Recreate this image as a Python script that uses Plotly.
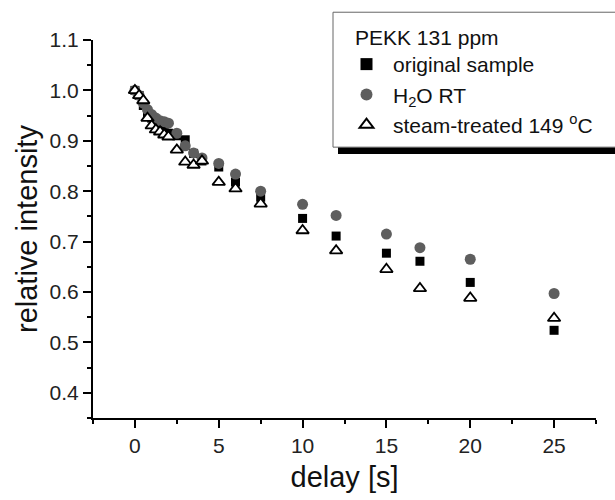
import plotly.graph_objects as go

delay = [0, 0.25, 0.5, 0.75, 1, 1.25, 1.5, 1.75, 2, 2.5, 3, 3.5, 4, 5, 6, 7.5, 10, 12, 15, 17, 20, 25]

original_sample = [1.0, 0.99, 0.97, 0.955, 0.945, 0.935, 0.925, 0.92, 0.915, 0.91, 0.902, 0.875,
                   0.86, 0.848, 0.818, 0.788, 0.746, 0.711, 0.677, 0.661, 0.619, 0.524]
h2o_rt = [1.0, 0.99, 0.975, 0.962, 0.952, 0.945, 0.94, 0.938, 0.935, 0.915, 0.89, 0.876,
          0.866, 0.855, 0.834, 0.80, 0.774, 0.752, 0.715, 0.688, 0.665, 0.597]
steam_treated = [1.0, 0.99, 0.98, 0.945, 0.93, 0.922, 0.918, 0.912, 0.908, 0.882, 0.858, 0.852,
                 0.86, 0.818, 0.805, 0.775, 0.722, 0.682, 0.645, 0.607, 0.588, 0.548]

x_ticks = [0, 5, 10, 15, 20, 25]
y_ticks = [0.4, 0.5, 0.6, 0.7, 0.8, 0.9, 1.0, 1.1]
legend_title = "PEKK 131 ppm"
x_title = "delay [s]"
y_title = "relative intensity"

FONT = "Liberation Sans, Arial, sans-serif"

# plot-area geometry in pixels (used to place the legend box)
L, R, T, B = 93, 596, 40, 421
def px_x(p):
    return (p - L) / (R - L)
def px_y(p):
    return (B - p) / (B - T)

fig = go.Figure()
fig.add_trace(go.Scatter(
    x=delay, y=original_sample, mode="markers", name="original sample",
    marker=dict(symbol="square", size=9, color="black", line=dict(width=0))))
fig.add_trace(go.Scatter(
    x=delay, y=h2o_rt, mode="markers", name="H<sub>2</sub>O RT",
    marker=dict(symbol="circle", size=11, color="#5e5e5e", line=dict(width=0))))
fig.add_trace(go.Scatter(
    x=delay, y=steam_treated, mode="markers", name="steam-treated 149 <sup>o</sup>C",
    marker=dict(symbol="triangle-up", size=11, color="white", line=dict(width=1.8, color="black"))))

# legend shadow and box
fig.add_shape(type="rect", xref="paper", yref="paper",
              x0=px_x(338), x1=px_x(622), y0=px_y(155), y1=px_y(147),
              fillcolor="black", line=dict(width=0), layer="below")
fig.add_shape(type="rect", xref="paper", yref="paper",
              x0=px_x(333), x1=px_x(630), y0=px_y(148), y1=px_y(12),
              fillcolor="white", line=dict(width=1, color="#666"), layer="below")
fig.add_annotation(xref="paper", yref="paper", x=px_x(353), y=px_y(37),
                   xanchor="left", yanchor="middle", showarrow=False,
                   text=legend_title, font=dict(family=FONT, size=21, color="#111"))
# y-axis title
fig.add_annotation(xref="paper", yref="paper", x=px_x(27), y=0.5,
                   xanchor="center", yanchor="middle", showarrow=False, textangle=-90,
                   text=y_title, font=dict(family=FONT, size=29, color="#111"))

axis_common = dict(
    showline=True, linecolor="black", linewidth=2, mirror=False,
    ticks="outside", ticklen=8, tickwidth=2, tickcolor="black",
    showgrid=False, zeroline=False,
    tickfont=dict(family=FONT, size=21, color="#222"),
)

fig.update_xaxes(
    range=[-2.5, 27.5], tickvals=x_ticks, ticktext=[str(v) for v in x_ticks],
    minor=dict(dtick=2.5, tick0=0, ticklen=4, tickwidth=2, tickcolor="black", ticks="outside"),
    title=dict(text=x_title, font=dict(family=FONT, size=29, color="#111"), standoff=10),
    **axis_common)
fig.update_yaxes(
    range=[0.35, 1.1], tickvals=y_ticks, ticktext=[f"{v:.1f}" for v in y_ticks],
    minor=dict(dtick=0.05, tick0=0.35, ticklen=4, tickwidth=2, tickcolor="black", ticks="outside"),
    **axis_common)

fig.update_layout(
    width=615, height=500,
    margin=dict(l=L, r=615 - R, t=T, b=500 - B),
    plot_bgcolor="white", paper_bgcolor="white",
    font=dict(family=FONT, color="#111"),
    legend=dict(
        font=dict(family=FONT, size=21, color="#111"),
        x=px_x(340), y=px_y(44), xanchor="left", yanchor="top",
        bgcolor="rgba(0,0,0,0)", borderwidth=0,
        itemsizing="constant", tracegroupgap=0, itemwidth=43,
    ),
)

fig.write_html("out.html")
